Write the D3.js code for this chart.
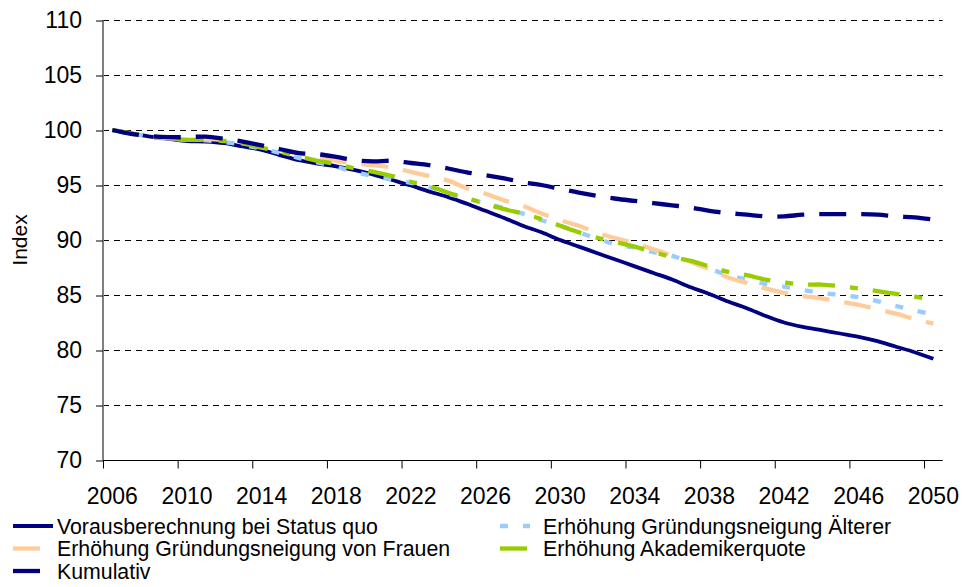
<!DOCTYPE html>
<meta charset="utf-8">
<style>
body { margin: 0; background: #fff; }
svg { font-family: "Liberation Sans", Arial, sans-serif; }
</style>
<svg width="965" height="587"></svg>
<script src="https://d3js.org/d3.v7.min.js"></script>
<script>

var years = d3.range(2006, 2051);

var statusQuo = [100.0, 99.7, 99.4, 99.2, 99.0, 98.95, 98.8, 98.5, 98.2, 97.7,
  97.25, 96.95, 96.7, 96.35, 95.95, 95.45, 94.95, 94.4, 93.9, 93.3,
  92.65, 92.0, 91.3, 90.7, 90.0, 89.4, 88.8, 88.2, 87.6, 87.0,
  86.4, 85.7, 85.1, 84.4, 83.8, 83.1, 82.5, 82.1, 81.8, 81.5,
  81.2, 80.8, 80.3, 79.8, 79.2];

var aelterer = [100.0, 99.7, 99.4, 99.2, 99.1, 99.05, 98.9, 98.65, 98.3, 97.9,
  97.45, 97.05, 96.65, 96.2, 95.8, 95.5, 95.2, 94.8, 94.2, 93.8,
  93.3, 92.9, 92.4, 91.8, 91.3, 90.7, 90.1, 89.6, 89.3, 88.9,
  88.55, 88.0, 87.4, 86.8, 86.4, 86.0, 85.75, 85.45, 85.2, 85.0,
  84.8, 84.45, 84.0, 83.6, 83.2];

var frauen = [100.0, 99.65, 99.4, 99.25, 99.2, 99.2, 99.1, 98.85, 98.5, 98.2,
  97.85, 97.6, 97.2, 96.95, 96.8, 96.6, 96.2, 95.8, 95.4, 94.7,
  94.2, 93.6, 93.1, 92.4, 91.8, 91.3, 90.65, 90.15, 89.7, 89.15,
  88.6, 88.0, 87.35, 86.6, 86.1, 85.6, 85.2, 84.9, 84.7, 84.4,
  84.1, 83.7, 83.3, 82.8, 82.4];

var akademiker = [100.0, 99.7, 99.4, 99.2, 99.1, 99.1, 99.0, 98.75, 98.4, 98.0,
  97.6, 97.2, 96.9, 96.5, 96.2, 95.8, 95.3, 94.9, 94.3, 93.8,
  93.3, 92.8, 92.4, 91.9, 91.3, 90.7, 90.2, 89.8, 89.4, 88.9,
  88.45, 88.1, 87.6, 87.1, 86.8, 86.4, 86.15, 85.95, 85.95, 85.8,
  85.6, 85.35, 85.1, 84.85, 84.6];

var kumulativ = [100.0, 99.65, 99.45, 99.35, 99.35, 99.4, 99.2, 98.95, 98.6, 98.25,
  97.9, 97.8, 97.55, 97.25, 97.15, 97.2, 97.0, 96.8, 96.5, 96.15,
  95.9, 95.6, 95.25, 95.0, 94.65, 94.3, 94.0, 93.75, 93.55, 93.35,
  93.15, 92.95, 92.65, 92.45, 92.3, 92.15, 92.15, 92.3, 92.35, 92.35,
  92.35, 92.3, 92.15, 92.05, 91.85];

var yTicks = [70, 75, 80, 85, 90, 95, 100, 105, 110];
var xLabels = [2006, 2010, 2014, 2018, 2022, 2026, 2030, 2034, 2038, 2042, 2046, 2050];

var series = [
  {name: "Vorausberechnung bei Status quo", values: statusQuo, color: "#000080", dash: null, w: 3.8},
  {name: "Erhöhung Gründungsneigung Älterer", values: aelterer, color: "#99CCFF", dash: "8,15", w: 4.3},
  {name: "Erhöhung Gründungsneigung von Frauen", values: frauen, color: "#FFCC99", dash: "27,15", w: 4.3},
  {name: "Erhöhung Akademikerquote", values: akademiker, color: "#99CC00", dash: "27,15,8,15", w: 4.3},
  {name: "Kumulativ", values: kumulativ, color: "#000080", dash: "27,15", w: 4.3}
];

var svg = d3.select("svg");

var plotL = 103, plotR = 942.7, plotT = 20, plotB = 460;

var x = d3.scaleLinear().domain([2005.5, 2050.5]).range([plotL, plotR]);
var y = d3.scaleLinear().domain([70, 110]).range([plotB, plotT]);

// gridlines (offset half a pixel to keep them crisp)
svg.append("g")
  .selectAll("line")
  .data(yTicks.filter(function(d) { return d > 70; }))
  .enter().append("line")
    .attr("x1", plotL).attr("x2", plotR)
    .attr("y1", function(d) { return Math.round(y(d)) + 0.5; })
    .attr("y2", function(d) { return Math.round(y(d)) + 0.5; })
    .attr("stroke", "#000")
    .attr("stroke-width", 1)
    .attr("stroke-dasharray", "6,5");

// y axis
var yAxis = svg.append("g")
    .attr("transform", "translate(" + plotL + ",0.5)")
    .call(d3.axisLeft(y).tickValues(yTicks).tickSize(7).tickPadding(14));
yAxis.select(".domain").attr("stroke", "#808080").attr("stroke-width", 2)
  .attr("d", "M0," + plotT + "V" + plotB);
yAxis.selectAll(".tick line").attr("stroke", "#000");
yAxis.selectAll("text").attr("font-size", 23).attr("fill", "#000")
  .attr("font-family", "Liberation Sans, Arial, sans-serif");

// x axis: ticks at category boundaries, labels at category centres
var tickPos = xLabels.map(function(d) { return d - 0.5; });
var xAxis = svg.append("g")
    .attr("transform", "translate(0," + (plotB + 0.5) + ")")
    .call(d3.axisBottom(x).tickValues(tickPos).tickSize(8).tickFormat(""));
xAxis.select(".domain").attr("stroke", "#000").attr("stroke-width", 1.2)
  .attr("d", "M" + plotL + ",0H" + plotR);
xAxis.selectAll(".tick line").attr("stroke", "#000");

svg.append("g")
  .selectAll("text")
  .data(xLabels)
  .enter().append("text")
    .attr("x", function(d) { return x(d); })
    .attr("y", 504)
    .attr("text-anchor", "middle")
    .attr("font-size", 23)
    .text(function(d) { return d; });

svg.append("text")
    .attr("transform", "translate(27,240) rotate(-90)")
    .attr("text-anchor", "middle")
    .attr("font-size", 21)
    .text("Index");

// lines
var line = d3.line()
    .x(function(d, i) { return x(years[i]); })
    .y(function(d) { return y(d); })
    .curve(d3.curveCatmullRom);

svg.append("g")
  .selectAll("path")
  .data(series)
  .enter().append("path")
    .attr("d", function(d) { return line(d.values); })
    .attr("fill", "none")
    .attr("stroke", function(d) { return d.color; })
    .attr("stroke-width", function(d) { return d.w; })
    .attr("stroke-dasharray", function(d) { return d.dash; });

// legend, row-major in two columns
var legendPos = [
  {sx: 13, tx: 57, y: 526, len: 40},
  {sx: 500, tx: 543, y: 526, len: 30},
  {sx: 13, tx: 57, y: 548.5, len: 29},
  {sx: 500, tx: 543, y: 548.5, len: 28},
  {sx: 13, tx: 57, y: 571, len: 29}
];

var legend = svg.append("g")
  .selectAll("g")
  .data(series)
  .enter().append("g");

legend.append("line")
    .attr("x1", function(d, i) { return legendPos[i].sx; })
    .attr("x2", function(d, i) { return legendPos[i].sx + legendPos[i].len; })
    .attr("y1", function(d, i) { return legendPos[i].y; })
    .attr("y2", function(d, i) { return legendPos[i].y; })
    .attr("stroke", function(d) { return d.color; })
    .attr("stroke-width", function(d) { return d.w; })
    .attr("stroke-dasharray", function(d) { return d.dash; });

legend.append("text")
    .attr("x", function(d, i) { return legendPos[i].tx; })
    .attr("y", function(d, i) { return legendPos[i].y + 7.5; })
    .attr("font-size", 21.3)
    .text(function(d) { return d.name; });

</script>
